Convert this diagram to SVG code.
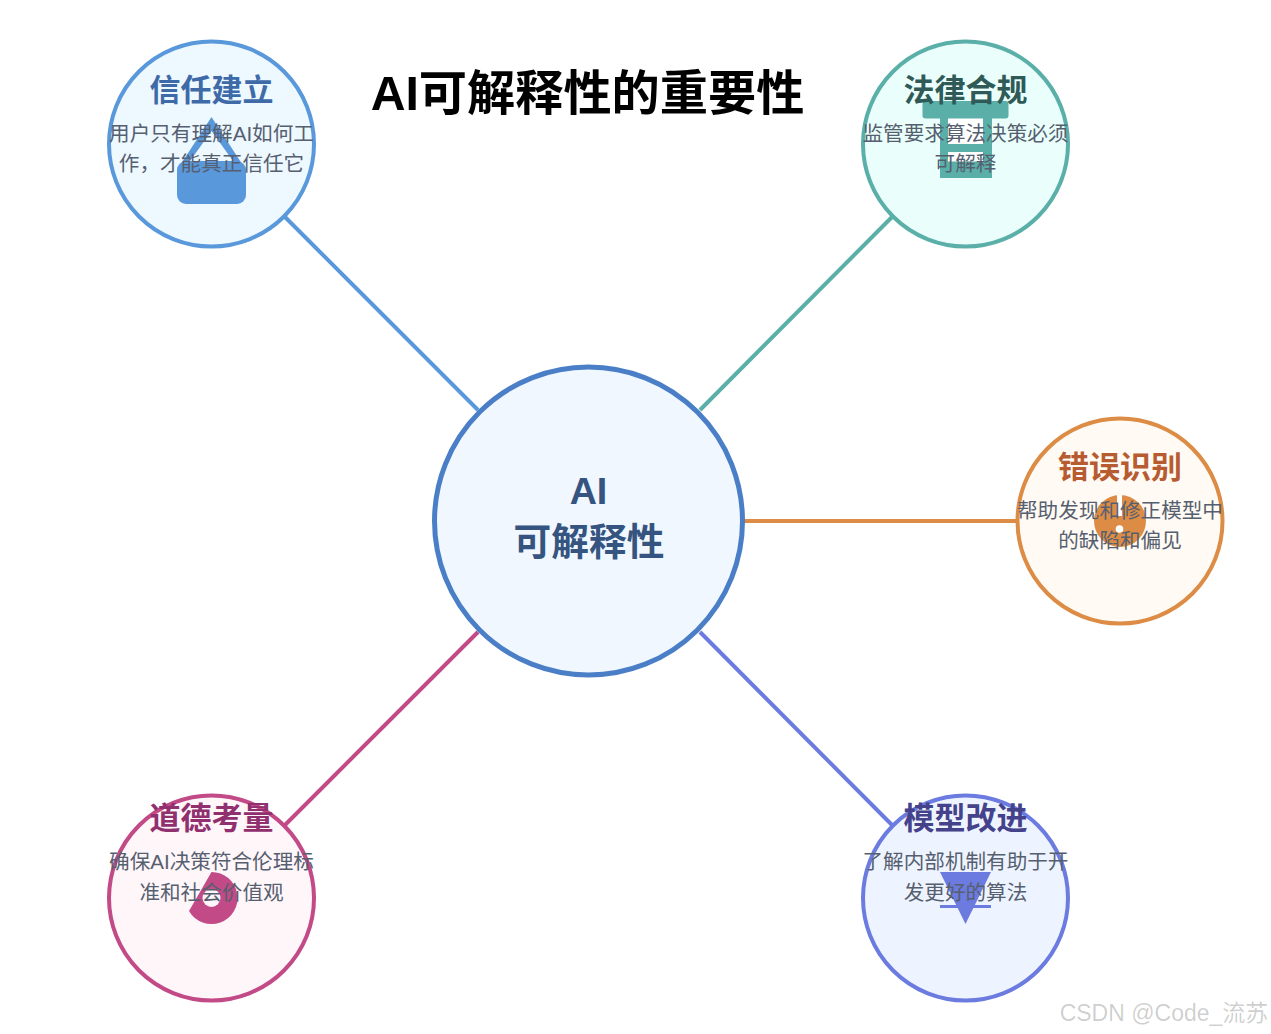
<svg xmlns="http://www.w3.org/2000/svg" width="1271" height="1034" viewBox="0 0 1271 1034">
<style>
text{font-family:"Liberation Sans","Noto Sans CJK SC",sans-serif;text-anchor:middle}
.t{font-size:31px;font-weight:700}
.b{font-size:20.6px;fill:#565f70}
.n{stroke-width:4}
.c{stroke-width:4;fill:none}
</style>
<rect width="1271" height="1034" fill="#fff"/>
<text id="title" x="587.5" y="110" style="font-size:48.2px;font-weight:700" fill="#000">AI可解释性的重要性</text>
<g id="connectors">
<line class="c" x1="285" y1="217" x2="478" y2="410" stroke="#5a98dc"/>
<line class="c" x1="892" y1="217" x2="700" y2="410" stroke="#5aafa8"/>
<line class="c" x1="743" y1="521" x2="1017" y2="521" stroke="#dd8c45"/>
<line class="c" x1="285" y1="825" x2="478" y2="632" stroke="#c24a86"/>
<line class="c" x1="892" y1="825" x2="700" y2="632" stroke="#6b7bdf"/>
</g>
<g id="center">
<circle cx="588.5" cy="521" r="154" fill="#f0f7ff" stroke="#4a7fc7" stroke-width="5"/>
<text x="588.5" y="504" style="font-size:37.7px;font-weight:700" fill="#35547f">AI</text>
<text x="589" y="555" style="font-size:37.7px;font-weight:700" fill="#35547f">可解释性</text>
</g>
<g id="trust">
<circle class="n" cx="211.5" cy="144" r="102.5" fill="#edf8ff" stroke="#5a98dc"/>
<path d="M211.5 117L246 170H177ZM211.5 131L190 161H233Z" fill="#5a98dc" fill-rule="evenodd"/>
<rect x="177" y="161" width="69" height="43" rx="9" fill="#5a98dc"/>
<text class="t" x="211.5" y="101" fill="#3f6aa8">信任建立</text>
<text class="b" x="211.5" y="141">用户只有理解AI如何工</text>
<text class="b" x="211.5" y="171">作，才能真正信任它</text>
</g>
<g id="legal">
<circle class="n" cx="965.5" cy="144" r="102.5" fill="#eafffb" stroke="#5aafa8"/>
<rect x="922.5" y="101" width="86" height="17.5" rx="3" fill="#5aafa8"/>
<rect x="940" y="118" width="52" height="60" fill="#5aafa8"/>
<rect x="948" y="118.5" width="35" height="25.5" fill="#fff"/>
<rect x="948" y="152" width="35" height="9.5" fill="#fff"/>
<text class="t" x="965.5" y="101" fill="#2f5a58">法律合规</text>
<text class="b" x="965.5" y="141">监管要求算法决策必须</text>
<text class="b" x="965.5" y="171">可解释</text>
</g>
<g id="error">
<circle class="n" cx="1120" cy="521" r="102.5" fill="#fffaf3" stroke="#dd8c45"/>
<circle cx="1120" cy="521" r="26" fill="#dd8c45"/>
<rect x="1117" y="495" width="5" height="21" fill="#fff"/>
<circle cx="1119.5" cy="529" r="3.8" fill="#fff"/>
<text class="t" x="1120" y="478" fill="#b75c30">错误识别</text>
<text class="b" x="1120" y="518">帮助发现和修正模型中</text>
<text class="b" x="1120" y="548">的缺陷和偏见</text>
</g>
<g id="ethics">
<circle class="n" cx="211.5" cy="898" r="102.5" fill="#fff6fa" stroke="#c24a86"/>
<path d="M211.5 872A26 26 0 1 1 189 911Z" fill="#c24a86"/>
<circle cx="211.5" cy="898" r="9" fill="#fff6fa"/>
<text class="t" x="211.5" y="829" fill="#90306f">道德考量</text>
<text class="b" x="211.5" y="869">确保AI决策符合伦理标</text>
<text class="b" x="211.5" y="899.5">准和社会价值观</text>
</g>
<g id="model">
<circle class="n" cx="965.5" cy="898" r="102.5" fill="#eef4ff" stroke="#6b7bdf"/>
<path d="M940 872H991L965.5 924Z" fill="#6b7bdf"/>
<rect x="940" y="905" width="51" height="3" fill="#6b7bdf"/>
<text class="t" x="965.5" y="829" fill="#45428c">模型改进</text>
<text class="b" x="965.5" y="869">了解内部机制有助于开</text>
<text class="b" x="965.5" y="899.5">发更好的算法</text>
</g>
<text id="watermark" x="1164" y="1021" style="font-size:23px" fill="#000" fill-opacity=".2">CSDN @Code_流苏</text>
</svg>
